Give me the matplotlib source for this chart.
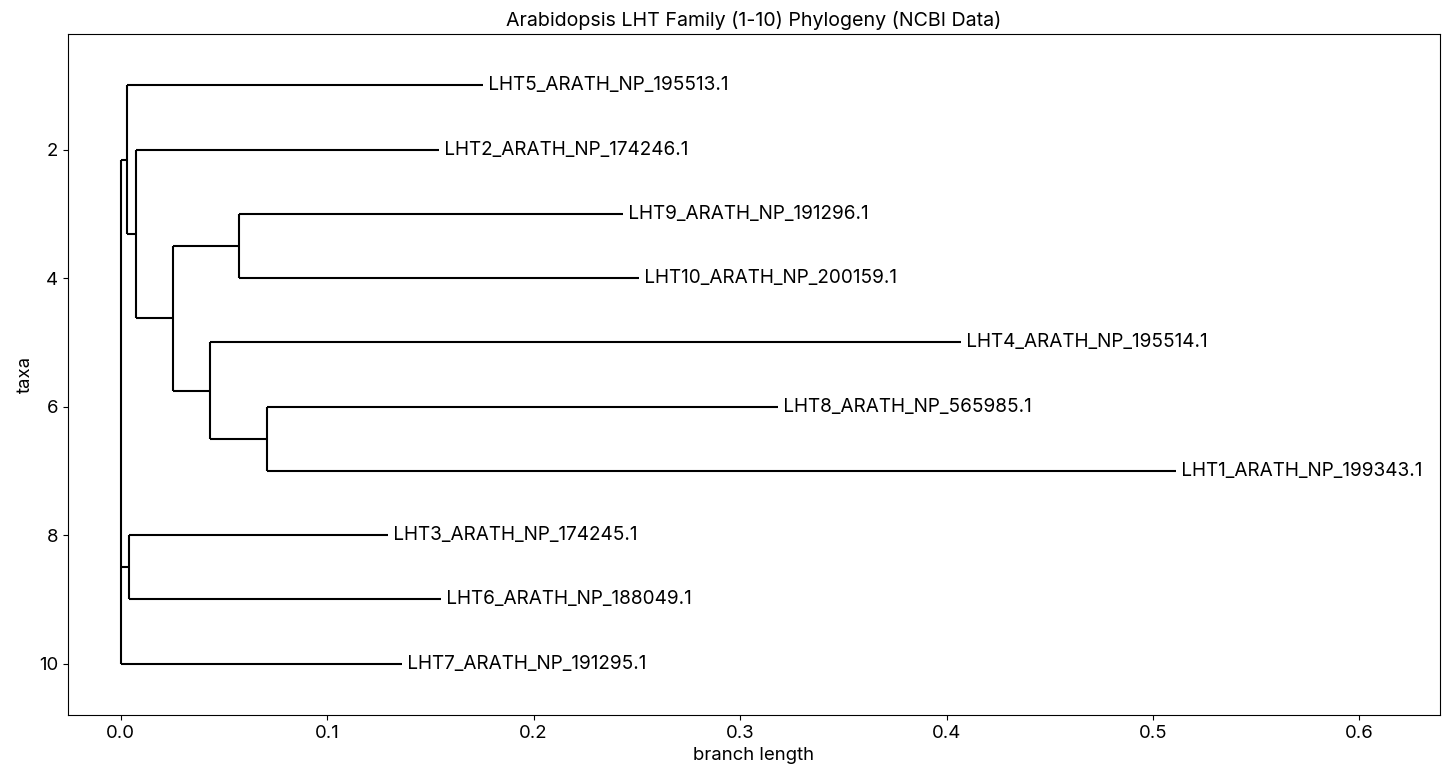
import matplotlib
matplotlib.use("Agg")
import matplotlib.pyplot as plt

# tree data (tips top to bottom)
leaf_labels = [
    "LHT5_ARATH_NP_195513.1",
    "LHT2_ARATH_NP_174246.1",
    "LHT9_ARATH_NP_191296.1",
    "LHT10_ARATH_NP_200159.1",
    "LHT4_ARATH_NP_195514.1",
    "LHT8_ARATH_NP_565985.1",
    "LHT1_ARATH_NP_199343.1",
    "LHT3_ARATH_NP_174245.1",
    "LHT6_ARATH_NP_188049.1",
    "LHT7_ARATH_NP_191295.1",
]
leaf_depth = [0.1756, 0.1543, 0.2431, 0.2510, 0.4068, 0.3185, 0.5112, 0.1292, 0.1550, 0.1362]

clade_ids = ["root", "A", "B", "C", "D", "E", "F", "G"]
clade_depth = [0.0, 0.0032, 0.0076, 0.0255, 0.0575, 0.0430, 0.0706, 0.0039]
children = {
    "root": ["A", "G", "LHT7_ARATH_NP_191295.1"],
    "A": ["LHT5_ARATH_NP_195513.1", "B"],
    "B": ["LHT2_ARATH_NP_174246.1", "C"],
    "C": ["D", "E"],
    "D": ["LHT9_ARATH_NP_191296.1", "LHT10_ARATH_NP_200159.1"],
    "E": ["LHT4_ARATH_NP_195514.1", "F"],
    "F": ["LHT8_ARATH_NP_565985.1", "LHT1_ARATH_NP_199343.1"],
    "G": ["LHT3_ARATH_NP_174245.1", "LHT6_ARATH_NP_188049.1"],
}

plt.rcParams['font.family'] = ['Inter', 'DejaVu Sans']

# x = depth, y = row (like Bio.Phylo.draw)
x_pos = dict(zip(leaf_labels, leaf_depth))
x_pos.update(dict(zip(clade_ids, clade_depth)))
y_pos = {name: i + 1 for i, name in enumerate(leaf_labels)}


def calc_y(node):
    if node in y_pos:
        return y_pos[node]
    kids = [calc_y(k) for k in children[node]]
    y_pos[node] = (kids[0] + kids[-1]) / 2
    return y_pos[node]


calc_y("root")

fig, ax = plt.subplots(figsize=(14.5, 7.78), dpi=100)
fig.subplots_adjust(left=0.0469, right=0.9931, top=0.9563, bottom=0.081)
renderer = fig.canvas.get_renderer()


def fit_size(text, target_px):
    # dobiera rozmiar czcionki do szerokości tekstu z oryginału
    t = fig.text(0, 0, text, fontsize=10)
    w = t.get_window_extent(renderer).width
    t.remove()
    return 10 * target_px / w


label_fs = fit_size("LHT1_ARATH_NP_199343.1", 243)
title_fs = fit_size("Arabidopsis LHT Family (1-10) Phylogeny (NCBI Data)", 498)
axis_fs = fit_size("branch length", 122)

for parent, kids in children.items():
    for k in kids:
        ax.hlines(y_pos[k], x_pos[parent], x_pos[k], color="black", lw=1.5)
    ax.vlines(x_pos[parent], y_pos[kids[0]], y_pos[kids[-1]], color="black", lw=1.5)

for name in leaf_labels:
    ax.text(x_pos[name], y_pos[name], " " + name, va="center", fontsize=label_fs)

xmax = max(leaf_depth)
ax.set_xlim(-0.05 * xmax, 1.25 * xmax)
ax.set_ylim(len(leaf_labels) + 0.8, 0.2)
ax.set_title("Arabidopsis LHT Family (1-10) Phylogeny (NCBI Data)", fontsize=title_fs)
ax.set_xlabel("branch length", fontsize=axis_fs)
ax.set_ylabel("taxa", fontsize=axis_fs)
ax.tick_params(labelsize=axis_fs)

fig.savefig("out.png", dpi=100)
